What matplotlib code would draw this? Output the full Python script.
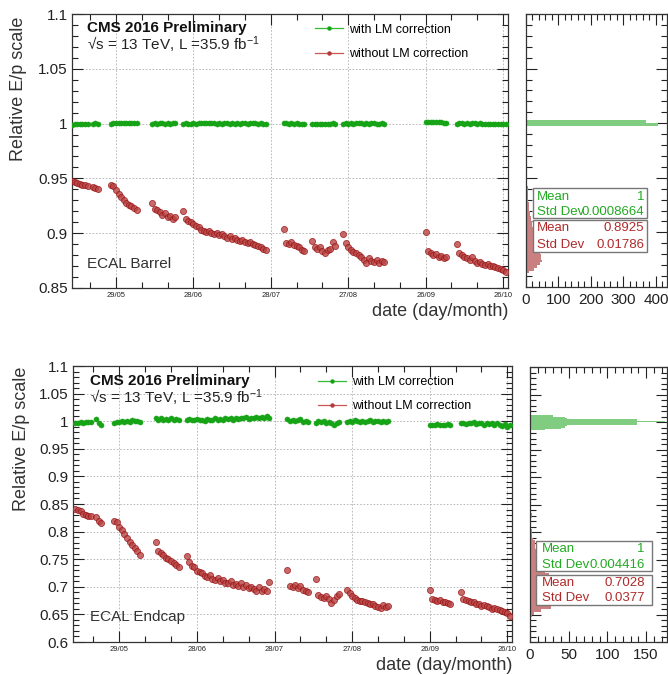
import matplotlib
matplotlib.use('Agg')
import matplotlib.pyplot as plt
from matplotlib.lines import Line2D
from matplotlib.patches import Rectangle
from matplotlib.ticker import MultipleLocator, FixedLocator, FuncFormatter, NullFormatter

plt.rcParams['font.family'] = ['Liberation Sans', 'DejaVu Sans']
plt.rcParams['mathtext.fontset'] = 'custom'
plt.rcParams['mathtext.rm'] = 'Liberation Sans'
plt.rcParams['mathtext.it'] = 'Liberation Sans:italic'

# ---------------- data ----------------
# run day, counted from 29/05/2016
run_day = [
    -17, -16, -15, -14, -13, -12, -11,
    -9, -8, -7,
    -2, -1, 0, 1, 2, 3, 4, 5, 6, 7, 8,
    14, 15, 16, 17, 18, 19, 20, 21, 22, 23,
    26, 27, 28, 29, 30, 31, 32, 33, 34, 35, 36, 37, 38, 39, 40, 41, 42, 43, 44,
    45, 46, 47, 48, 49, 50, 51, 52, 53, 54, 55, 56, 57, 58,
    65, 66, 67, 68, 69, 70, 71, 72, 73,
    76, 77, 78, 79, 80, 81, 82, 83, 84, 85,
    88, 89, 90, 91, 92, 93, 94, 95, 96, 97, 98, 99, 100, 101, 102, 103, 104,
    120, 121, 122, 123, 124, 125, 126, 127, 128,
    132, 133, 134, 135, 136, 137, 138, 139, 140, 141, 142, 143, 144, 145, 146,
    147, 148, 149, 150, 151,
]
date_ticks = [0, 30, 60, 90, 120, 150]
date_labels = ['29/05', '28/06', '28/07', '27/08', '26/09', '26/10']

barrel_without = [
    0.948, 0.947, 0.946, 0.945, 0.944, 0.944, 0.943,
    0.942, 0.941, 0.940,
    0.944, 0.943, 0.939, 0.936, 0.933, 0.930, 0.928, 0.926, 0.925, 0.923, 0.921,
    0.928, 0.922, 0.921, 0.919, 0.917, 0.918, 0.915, 0.916, 0.913, 0.915,
    0.920, 0.913, 0.911, 0.910, 0.908, 0.907, 0.906, 0.903, 0.902, 0.901, 0.902,
    0.900, 0.899, 0.900, 0.898, 0.899, 0.897, 0.896, 0.897, 0.895, 0.896, 0.894,
    0.893, 0.894, 0.892, 0.891, 0.892, 0.890, 0.889, 0.888, 0.887, 0.886, 0.885,
    0.904, 0.891, 0.890, 0.892, 0.889, 0.888, 0.887, 0.885, 0.884,
    0.893, 0.887, 0.886, 0.887, 0.884, 0.882, 0.885, 0.886, 0.892, 0.888,
    0.899, 0.891, 0.887, 0.885, 0.883, 0.882, 0.880, 0.878, 0.876, 0.873, 0.877,
    0.875, 0.874, 0.876, 0.873, 0.875, 0.874,
    0.901, 0.884, 0.882, 0.880, 0.881, 0.878, 0.879, 0.877, 0.878,
    0.890, 0.882, 0.880, 0.878, 0.877, 0.876, 0.878, 0.875, 0.873, 0.874, 0.872,
    0.871, 0.872, 0.870, 0.870, 0.869, 0.868, 0.867, 0.866, 0.865,
]
barrel_with = [
    0.9990, 0.9992, 0.9995, 0.9998, 0.9996, 0.9999, 0.9997,
    1.0000, 1.0002, 0.9999,
    0.9998, 1.0001, 1.0003, 1.0002, 1.0004, 1.0001, 1.0003, 1.0005, 1.0002, 1.0004, 1.0001,
    0.9998, 1.0001, 1.0000, 1.0003, 1.0001, 0.9999, 1.0002, 1.0000, 1.0003, 1.0001,
    0.9999, 1.0002, 0.9996, 0.9993, 1.0001, 0.9998, 1.0004, 1.0008, 1.0006, 1.0003, 1.0005,
    1.0001, 1.0003, 1.0000, 1.0002, 0.9999, 1.0003, 1.0001, 1.0000, 1.0002, 0.9999,
    1.0003, 1.0000, 1.0002, 1.0004, 0.9999, 1.0002, 1.0005, 1.0001, 0.9998, 1.0003,
    0.9997, 0.9996,
    1.0004, 1.0002, 1.0000, 1.0003, 0.9999, 1.0001, 0.9998, 0.9997, 0.9996,
    0.9994, 0.9996, 0.9998, 0.9995, 0.9999, 0.9997, 1.0000, 0.9998, 1.0001, 1.0000,
    0.9998, 1.0001, 1.0000, 1.0003, 0.9999, 1.0002, 1.0001, 1.0004, 1.0000, 1.0002,
    0.9999, 1.0001, 1.0003, 1.0000, 0.9998, 1.0001, 0.9999,
    1.0012, 1.0016, 1.0013, 1.0017, 1.0014, 1.0011, 1.0015, 1.0010, 1.0008,
    0.9998, 1.0003, 1.0001, 0.9999, 1.0002, 1.0000, 1.0004, 1.0001, 0.9998, 1.0002,
    0.9999, 0.9997, 1.0000, 0.9996, 0.9998, 0.9995, 0.9997, 0.9993, 0.9996, 0.9992,
]
endcap_without = [
    0.841, 0.840, 0.838, 0.831, 0.830, 0.829, 0.829,
    0.826, 0.820, 0.816,
    0.820, 0.818, 0.808, 0.802, 0.795, 0.789, 0.782, 0.776, 0.770, 0.765, 0.758,
    0.782, 0.765, 0.762, 0.757, 0.753, 0.750, 0.746, 0.744, 0.739, 0.735,
    0.755, 0.745, 0.738, 0.735, 0.729, 0.727, 0.725, 0.720, 0.718, 0.722, 0.715,
    0.712, 0.716, 0.710, 0.712, 0.707, 0.706, 0.710, 0.703, 0.705, 0.702, 0.706,
    0.700, 0.703, 0.697, 0.700, 0.696, 0.693, 0.699, 0.692, 0.696, 0.693, 0.708,
    0.730, 0.702, 0.699, 0.704, 0.697, 0.701, 0.694, 0.692, 0.690,
    0.715, 0.685, 0.682, 0.680, 0.683, 0.678, 0.670, 0.676, 0.683, 0.687,
    0.695, 0.688, 0.683, 0.679, 0.676, 0.675, 0.674, 0.672, 0.670, 0.668, 0.669,
    0.666, 0.664, 0.661, 0.667, 0.663, 0.665,
    0.695, 0.678, 0.676, 0.675, 0.676, 0.673, 0.672, 0.670, 0.668,
    0.690, 0.677, 0.676, 0.674, 0.673, 0.672, 0.669, 0.668, 0.665, 0.667, 0.666,
    0.663, 0.660, 0.662, 0.659, 0.658, 0.657, 0.655, 0.652, 0.648,
]
endcap_with = [
    0.997, 0.997, 0.998, 0.997, 0.998, 0.998, 0.999,
    1.004, 0.997, 0.994,
    0.997, 0.998, 0.999, 1.000, 0.998, 1.001, 0.999, 1.002, 1.000, 1.001, 0.999,
    1.006, 1.003, 1.005, 1.002, 1.004, 1.003, 1.005, 1.002, 1.004, 1.003,
    1.003, 1.004, 1.002, 1.003, 1.004, 1.002, 1.003, 1.001, 1.004, 1.002, 1.003,
    1.005, 1.002, 1.004, 1.003, 1.005, 1.004, 1.006, 1.003, 1.005, 1.004, 1.006,
    1.005, 1.007, 1.004, 1.006, 1.005, 1.008, 1.006, 1.007, 1.005, 1.009, 1.006,
    1.004, 1.001, 1.003, 1.000, 1.002, 1.004, 0.999, 1.001, 0.998,
    0.997, 1.000, 0.998, 1.001, 0.996, 0.999, 0.997, 0.993, 0.996, 0.998,
    0.998, 1.001, 0.999, 1.002, 1.000, 0.998, 1.001, 0.999, 1.000, 1.002, 0.999,
    1.001, 1.000, 0.998, 1.001, 0.999, 1.000,
    0.993, 0.994, 0.993, 0.995, 0.994, 0.993, 0.994, 0.995, 0.994,
    0.996, 0.997, 0.995, 0.997, 0.996, 0.998, 0.995, 0.997, 0.996, 0.994, 0.996,
    0.995, 0.997, 0.993, 0.996, 0.994, 0.992, 0.995, 0.990, 0.993,
]

# projections (histograms): lower bin edge, counts
barrel_hist_with_bins = [0.9975, 1.0000]
barrel_hist_with_counts = [405, 370]
barrel_hist_without_bins = [
    0.8625, 0.8650, 0.8675, 0.8700, 0.8725, 0.8750, 0.8775, 0.8800, 0.8825, 0.8850,
    0.8875, 0.8900, 0.8925, 0.8950, 0.8975, 0.9000, 0.9025, 0.9050, 0.9075, 0.9100,
    0.9125, 0.9150, 0.9175, 0.9200, 0.9225, 0.9250, 0.9275, 0.9300, 0.9325, 0.9350,
    0.9375, 0.9400, 0.9425, 0.9450,
]
barrel_hist_without_counts = [
    10, 25, 35, 42, 48, 46, 45, 44, 42, 40,
    38, 35, 32, 30, 28, 27, 24, 20, 18, 16,
    14, 12, 11, 10, 9, 8, 7, 7, 6, 6,
    6, 5, 4, 2,
]
endcap_hist_with_bins = [0.9850, 0.9875, 0.9900, 0.9925, 0.9950, 0.9975, 1.0000,
                         1.0025, 1.0050, 1.0075, 1.0100]
endcap_hist_with_counts = [20, 40, 45, 48, 138, 138, 175, 138, 48, 45, 30]
endcap_hist_without_bins = [
    0.645, 0.650, 0.655, 0.660, 0.665, 0.670, 0.675, 0.680, 0.685, 0.690,
    0.695, 0.700, 0.705, 0.710, 0.715, 0.720, 0.725, 0.730, 0.735, 0.740,
    0.745, 0.750, 0.755, 0.760, 0.765, 0.770, 0.775, 0.780, 0.785, 0.790,
    0.795, 0.800, 0.805, 0.810, 0.815, 0.820, 0.825, 0.830, 0.835, 0.840,
]
endcap_hist_without_counts = [
    2, 5, 14, 27, 45, 55, 52, 46, 42, 45,
    50, 52, 45, 38, 30, 25, 20, 18, 16, 14,
    12, 11, 10, 9, 8, 7, 7, 6, 4, 3,
    3, 2, 1, 1, 1, 1, 2, 2, 1, 1,
]

barrel_stats = {'with': ('1', '0.0008664'), 'without': ('0.8925', '0.01786')}
endcap_stats = {'with': ('1', '0.004416'), 'without': ('0.7028', '0.0377')}

# ---------------- style ----------------
GREEN = '#16a316'
RED = '#9a1414'
GREEN_H = '#80cc80'
RED_H = '#c98080'
GREEN_T = '#22aa22'
RED_T = '#b02a2a'

W, H = 668, 675
fig = plt.figure(figsize=(W / 100, H / 100), dpi=100)


def frac_axes(x0, y0, x1, y1):
    return fig.add_axes([x0 / W, 1 - y1 / H, (x1 - x0) / W, (y1 - y0) / H])


ax_b = frac_axes(72, 14, 508, 288)
hx_b = frac_axes(526, 14, 667, 287)
ax_e = frac_axes(73, 366, 512, 642)
hx_e = frac_axes(530, 367, 667, 642)

yfmt = FuncFormatter(lambda v, p: format(round(v, 4), 'g'))


def style_frame(ax):
    ax.tick_params(which='both', direction='in', top=True, right=True, width=0.8,
                   colors='#222222')
    ax.tick_params(which='major', length=8)
    ax.tick_params(which='minor', length=4)
    for s in ax.spines.values():
        s.set_linewidth(0.9)
        s.set_color('#333333')


def draw_main(ax, xlim, ylim, y_with, y_without, title_y, label, label_pos, leg_pos):
    ax.plot(run_day, y_without, ls='none', marker='o', ms=4.4, mfc='#b84444',
            mec=RED, mew=0.6, alpha=0.8, zorder=3)
    ax.plot(run_day, y_with, ls='none', marker='o', ms=3.7, mfc=GREEN, mec=GREEN,
            mew=0.3, zorder=3)
    ax.set_xlim(*xlim)
    ax.set_ylim(*ylim)
    ax.xaxis.set_major_locator(FixedLocator(date_ticks))
    ax.set_xticklabels(date_labels)
    ax.xaxis.set_minor_locator(MultipleLocator(10))
    ax.yaxis.set_major_locator(MultipleLocator(0.05))
    ax.yaxis.set_minor_locator(MultipleLocator(0.01))
    ax.yaxis.set_major_formatter(yfmt)
    style_frame(ax)
    ax.tick_params(axis='x', which='major', labelsize=5.5, pad=3)
    ax.tick_params(axis='y', which='major', labelsize=11, pad=3)
    ax.grid(True, which='major', ls=(0, (2, 2)), color='#b0b0b0', lw=0.6)
    ax.set_axisbelow(True)
    ax.text(title_y[0], title_y[1], 'CMS 2016 Preliminary', transform=ax.transAxes,
            fontsize=11, fontweight='bold', ha='left', va='center', color='#111111')
    ax.text(title_y[0], title_y[2], '√s = 13 TeV, L =35.9 fb$^{-1}$',
            transform=ax.transAxes, fontsize=11, ha='left', va='center', color='#222222')
    ax.text(label_pos[0], label_pos[1], label, transform=ax.transAxes, fontsize=11,
            ha='left', va='center', color='#333333')
    handles = [
        Line2D([], [], color='#33bb33', lw=0.9, marker='o', ms=2.2, mfc=GREEN, mec=GREEN),
        Line2D([], [], color='#cc5555', lw=0.9, marker='o', ms=2.2, mfc='#b53a3a', mec='#b53a3a'),
    ]
    ax.legend(handles, ['with LM correction', 'without LM correction'],
              loc='upper left', bbox_to_anchor=leg_pos, frameon=False, fontsize=9,
              borderpad=0, borderaxespad=0, handlelength=2.25, handletextpad=0.45,
              labelspacing=1.0)


def draw_hist(hx, ylim, xmax, xmajor, xminor, wb, wc, ob, oc, w_bin, o_bin,
              stats, box):
    hx.barh(wb, wc, height=w_bin, align='edge', color=GREEN_H, lw=0, zorder=2)
    hx.barh(ob, oc, height=o_bin, align='edge', color=RED_H, lw=0, zorder=2)
    hx.set_ylim(*ylim)
    hx.set_xlim(0, xmax)
    hx.xaxis.set_major_locator(MultipleLocator(xmajor))
    hx.xaxis.set_minor_locator(MultipleLocator(xminor))
    hx.yaxis.set_major_locator(MultipleLocator(0.05))
    hx.yaxis.set_minor_locator(MultipleLocator(0.01))
    hx.yaxis.set_major_formatter(NullFormatter())
    style_frame(hx)
    hx.tick_params(axis='x', which='major', labelsize=11, pad=4)
    x0, x1, tx0, tx1, gy0, gy1, ry0, ry1, rows = box
    for (y0, y1), key, col, r in (((gy0, gy1), 'with', GREEN_T, rows[:2]),
                                  ((ry0, ry1), 'without', RED_T, rows[2:])):
        hx.add_patch(Rectangle((x0, y0), x1 - x0, y1 - y0, transform=hx.transAxes,
                               fc='white', ec='#777777', lw=1.0, zorder=5))
        mean, sd = stats[key]
        hx.text(tx0, r[0], 'Mean', transform=hx.transAxes, color=col, fontsize=9.5,
                ha='left', va='center', zorder=6)
        hx.text(tx1, r[0], mean, transform=hx.transAxes, color=col, fontsize=9.5,
                ha='right', va='center', zorder=6)
        hx.text(tx0, r[1], 'Std Dev', transform=hx.transAxes, color=col, fontsize=9.5,
                ha='left', va='center', zorder=6)
        hx.text(tx1, r[1], sd, transform=hx.transAxes, color=col, fontsize=9.5,
                ha='right', va='center', zorder=6)


draw_main(ax_b, (-17.05, 151.9), (0.85, 1.1), barrel_with, barrel_without,
          (0.034, 0.949, 0.887), 'ECAL Barrel', (0.034, 0.088), (0.557, 0.964))
draw_main(ax_e, (-17.9, 151.8), (0.6, 1.1), endcap_with, endcap_without,
          (0.039, 0.946, 0.884), 'ECAL Endcap', (0.039, 0.091), (0.558, 0.964))

draw_hist(hx_b, (0.85, 1.1), 434, 100, 20,
          barrel_hist_with_bins, barrel_hist_with_counts,
          barrel_hist_without_bins, barrel_hist_without_counts, 0.0025, 0.0025,
          barrel_stats,
          (0.050, 0.858, 0.078, 0.837, 0.253, 0.363, 0.128, 0.245,
           (0.330, 0.275, 0.216, 0.154)))
draw_hist(hx_e, (0.6, 1.1), 177, 50, 10,
          endcap_hist_with_bins, endcap_hist_with_counts,
          endcap_hist_without_bins, endcap_hist_without_counts, 0.0025, 0.005,
          endcap_stats,
          (0.044, 0.891, 0.088, 0.839, 0.258, 0.367, 0.135, 0.244,
           (0.338, 0.280, 0.215, 0.160)))

# axis titles (ROOT style placement)
fig.text(19 / W, 1 - 17 / H, 'Relative E/p scale', rotation=90, ha='center', va='top',
         fontsize=13, color='#333333')
fig.text(22 / W, 1 - 367 / H, 'Relative E/p scale', rotation=90, ha='center', va='top',
         fontsize=13, color='#333333')
fig.text(508 / W, 1 - 312 / H, 'date (day/month)', ha='right', va='center',
         fontsize=13, color='#333333')
fig.text(512 / W, 1 - 666 / H, 'date (day/month)', ha='right', va='center',
         fontsize=13, color='#333333')

fig.savefig('out.png', dpi=100)
